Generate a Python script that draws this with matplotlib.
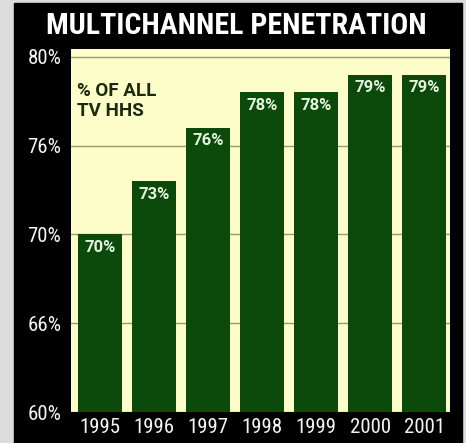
import matplotlib
matplotlib.use("Agg")
import matplotlib.pyplot as plt
from matplotlib.patches import Rectangle

YEARS = ["1995", "1996", "1997", "1998", "1999", "2000", "2001"]
PENETRATION = [70, 73, 76, 78, 78, 79, 79]
BAR_LABELS = ["70%", "73%", "76%", "78%", "78%", "79%", "79%"]
YTICKS = [60, 65, 70, 75, 80]
YTICK_LABELS = ["60%", "66%", "70%", "76%", "80%"]

NARROW = ["Roboto Condensed", "DejaVu Sans"]
WIDE = ["Roboto", "DejaVu Sans"]
BG = "#fdfdca"
GREEN = "#0b4a0b"

fig = plt.figure(figsize=(4.66, 4.43), dpi=100, facecolor="#dcdcdc")
# black panel behind everything
fig.patches.append(Rectangle((14 / 466, 0), 448 / 466, 440 / 443,
                             transform=fig.transFigure, color="black", zorder=-5))

fig.text(0.507, 0.942, "MULTICHANNEL PENETRATION", ha="center", va="center",
         color="white", fontsize=21.5, fontweight="bold", family=NARROW)

ax = fig.add_axes([71 / 466, 31 / 443, 379 / 466, 363 / 443])
ax.set_facecolor(BG)
x = range(len(YEARS))
ax.bar(x, PENETRATION, width=0.815, color=GREEN, zorder=3)
ax.set_xlim(-0.537, 6.48)
ax.set_ylim(60, 80.45)
ax.set_yticks(YTICKS, YTICK_LABELS)
ax.set_xticks(list(x), YEARS)
ax.grid(axis="y", color="#9c9c6a", linewidth=1, zorder=1)
ax.tick_params(length=0, colors="#f4f4f4", labelsize=15)
ax.tick_params(axis="y", pad=7)
ax.tick_params(axis="x", pad=4)
for lbl in ax.get_xticklabels() + ax.get_yticklabels():
    lbl.set_family(NARROW)
for s in ax.spines.values():
    s.set_visible(False)

for i, (v, t) in enumerate(zip(PENETRATION, BAR_LABELS)):
    ax.text(i, v - 0.3, t, ha="center", va="top", color="#e4f2dc",
            fontsize=12, fontweight="bold", family=WIDE, zorder=4)

ax.text(0.016, 0.91, "% OF ALL\nTV HHS", transform=ax.transAxes, ha="left",
        va="top", color="#1a2a10", fontsize=13.5, fontweight="bold",
        family=WIDE, linespacing=1.15, zorder=4)

fig.savefig("out.png", dpi=100, facecolor=fig.get_facecolor())
